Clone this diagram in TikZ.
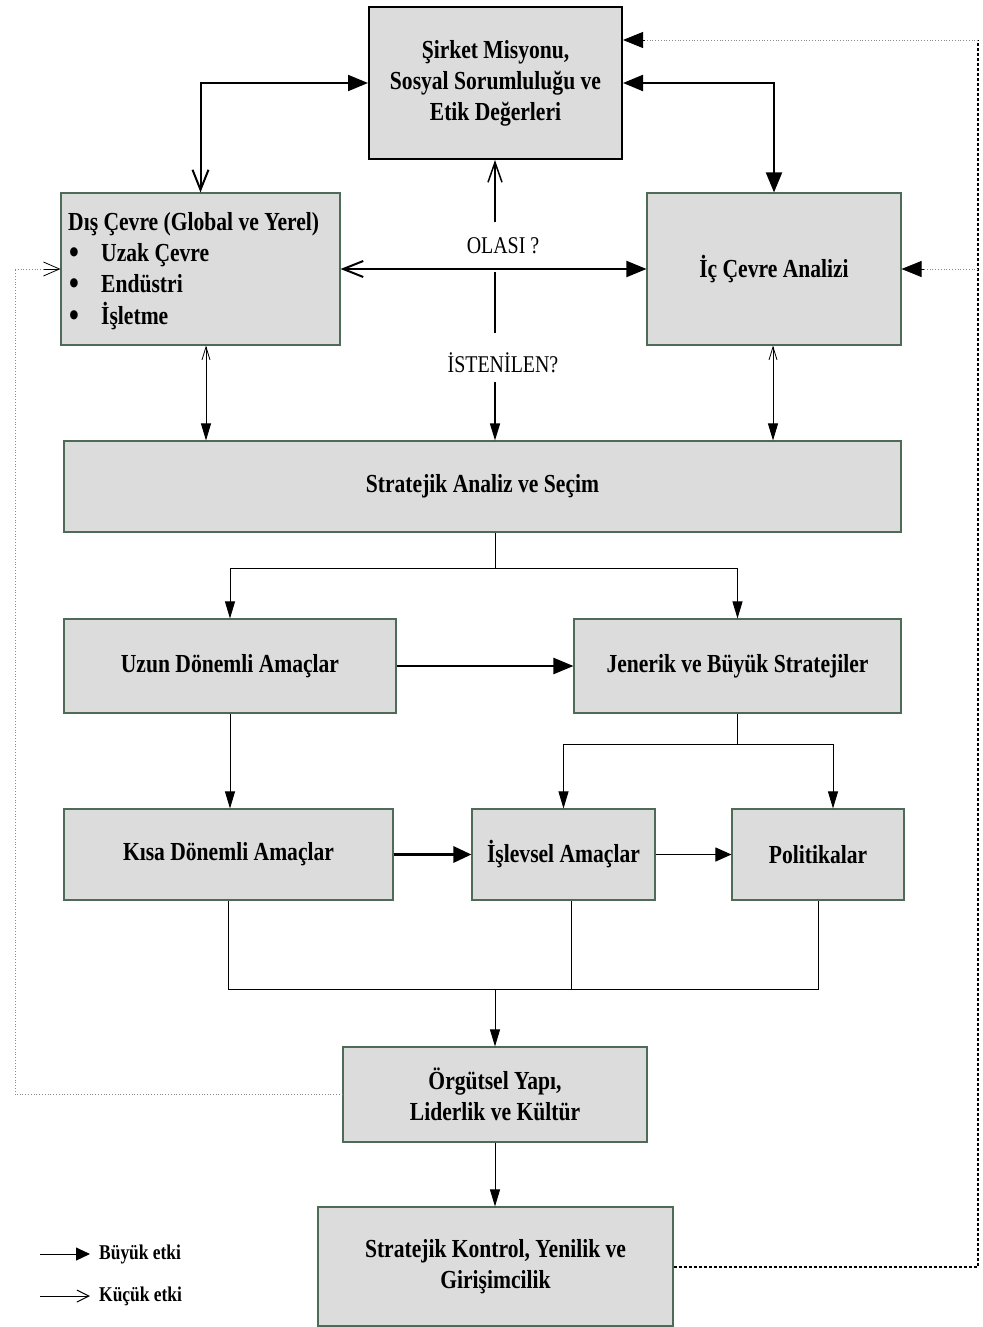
\documentclass[tikz,border=0pt]{standalone}
\usepackage{fontspec}
\setmainfont{Liberation Serif}[FakeStretch=0.83]
\usetikzlibrary{arrows.meta,calc}
\definecolor{boxfill}{HTML}{DCDCDC}
\definecolor{boxline}{HTML}{4E6B57}
\definecolor{dotgray}{HTML}{8A8A8A}
\newcommand{\bigbul}{\makebox[33pt][l]{\hspace{1pt}\raisebox{-2pt}{\scalebox{1.3}{\textbullet}}}}
\begin{document}
\begin{tikzpicture}[x=1pt,y=-1pt,
  box/.style={draw=boxline, fill=boxfill, line width=1.1pt, inner sep=0pt,
    align=center, font=\bfseries\fontsize{26}{31}\selectfont},
  bigtip/.style={-{Triangle[length=20pt,width=16pt]}},
  midtip/.style={-{Triangle[length=17pt,width=10pt]}},
  lab/.style={font=\fontsize{24}{26}\selectfont, inner sep=1pt},
  legtext/.style={anchor=west, inner sep=0pt, font=\bfseries\fontsize{21}{22}\selectfont},
  graydot/.style={draw=dotgray, dotted, line width=0.8pt},
  blackdot/.style={draw=black, dash pattern=on 3pt off 2pt, line width=2pt}
]
\useasboundingbox (0,0) rectangle (982,1327);

% boxes
\node[box, draw=black, line width=2pt, minimum width=253pt, minimum height=152pt] (mis) at (495.5,83)
  {Şirket Misyonu,\\Sosyal Sorumluluğu ve\\Etik Değerleri};
\node[box, minimum width=279pt, minimum height=152pt] (dis) at (200.5,269) {};
\node[anchor=north west, inner sep=0pt, align=left, font=\bfseries\fontsize{26}{31.3}\selectfont] (distext) at (68,212)
  {Dış Çevre (Global ve Yerel)\\
   \bigbul Uzak Çevre\\
   \bigbul Endüstri\\
   \bigbul İşletme};
\node[box, minimum width=254pt, minimum height=152pt] (ic) at (774,269) {İç Çevre Analizi};
\node[box, minimum width=837pt, minimum height=91pt] (str) at (482.5,486.5) {Stratejik Analiz ve Seçim};
\node[box, minimum width=332pt, minimum height=94pt] (uzun) at (230,666) {Uzun Dönemli Amaçlar};
\node[box, minimum width=327pt, minimum height=94pt] (jen) at (737.5,666) {Jenerik ve Büyük Stratejiler};
\node[box, minimum width=329pt, minimum height=91pt] (kisa) at (228.5,854.5) {Kısa Dönemli Amaçlar};
\node[box, minimum width=183pt, minimum height=91pt] (isl) at (563.5,854.5) {İşlevsel Amaçlar};
\node[box, minimum width=172pt, minimum height=91pt] (pol) at (818,854.5) {Politikalar};
\node[box, minimum width=304pt, minimum height=95pt] (org) at (495,1094.5) {Örgütsel Yapı,\\Liderlik ve Kültür};
\node[box, minimum width=355pt, minimum height=119pt] (kon) at (495.5,1266.5) {Stratejik Kontrol, Yenilik ve\\Girişimcilik};

% mission links
\draw[line width=2pt, {Straight Barb[length=20pt,width=16pt]}-{Triangle[length=20pt,width=16pt]}] (dis.north) |- (mis.west);
\draw[line width=2pt, {Triangle[length=20pt,width=16pt]}-{Triangle[length=20pt,width=16pt]}] (mis.east) -| (ic.north);
\draw[line width=2pt, {Straight Barb[length=20pt,width=16pt]}-{Triangle[length=20pt,width=16pt]}] (dis.east) -- (ic.west);

% OLASI / ISTENILEN
\node[lab] (olasi) at (503,246) {OLASI ?};
\node[lab] (isten) at (503,363) {İSTENİLEN?};
\coordinate (o1) at (495,222);
\coordinate (o2) at (495,272);
\coordinate (o3) at (495,333);
\coordinate (o4) at (495,382);
\draw[line width=1.5pt, -{Straight Barb[length=20pt,width=14pt]}] (o1) -- (o1 |- mis.south);
\draw[line width=1.2pt] (o2) -- (o3);
\draw[line width=1.5pt, midtip] (o4) -- (o4 |- str.north);

% side vertical links
\draw[line width=0.8pt, {Straight Barb[length=13pt,width=8pt]}-{Triangle[length=17pt,width=10pt]}]
  ([xshift=5.5pt]dis.south) -- ([xshift=5.5pt]dis.south |- str.north);
\draw[line width=0.8pt, {Straight Barb[length=13pt,width=8pt]}-{Triangle[length=17pt,width=10pt]}]
  ([xshift=-1pt]ic.south) -- ([xshift=-1pt]ic.south |- str.north);

% strategy split
\coordinate (s1) at (495,568);
\draw[line width=0.8pt] (s1 |- str.south) -- (s1);
\draw[line width=0.8pt, midtip] (s1) -| (uzun.north);
\draw[line width=0.8pt, midtip] (s1) -| (jen.north);

\draw[line width=2.2pt, bigtip] (uzun.east) -- (jen.west);
\draw[line width=0.8pt, midtip] (uzun.south) -- (kisa.north -| uzun.south);

\draw[line width=0.8pt] (jen.south) -- ++(0,31) coordinate (j1);
\draw[line width=0.8pt, midtip] (j1) -| (isl.north);
\draw[line width=0.8pt, midtip] (j1) -| ([xshift=15pt]pol.north);

\draw[line width=3pt, -{Triangle[length=18pt,width=16pt]}] (kisa.east) -- (isl.west);
\draw[line width=1pt, -{Triangle[length=16pt,width=14pt]}] (isl.east) -- (pol.west);

% merge
\coordinate (m1) at (495,989);
\draw[line width=0.8pt] (kisa.south) |- (m1) -| (pol.south);
\draw[line width=0.8pt] ([xshift=7.5pt]isl.south) -- ([xshift=7.5pt]isl.south |- m1);
\draw[line width=0.9pt, midtip] (m1) -- (m1 |- org.north);
\draw[line width=0.9pt, midtip] (org.south) -- (org.south |- kon.north);

% feedback loops
\coordinate (fl) at (15,269);
\draw[graydot] (org.west) -| (fl);
\draw[graydot] (fl) -- ([xshift=-16pt]dis.west);
\draw[line width=0.8pt, -{Straight Barb[length=16pt,width=14pt]}] ([xshift=-16pt]dis.west) -- (dis.west);

\coordinate (fr1) at (978,40);
\coordinate (fr2) at (978,269);
\draw[blackdot] (kon.east) -| (fr1);
\draw[graydot] (fr1) -- ([xshift=22pt]fr1 -| mis.east);
\draw[-{Triangle[length=20pt,width=16pt]}, line width=0.8pt] ([xshift=22pt]fr1 -| mis.east) -- (fr1 -| mis.east);
\draw[graydot] (fr2) -- ([xshift=22pt]ic.east);
\draw[-{Triangle[length=20pt,width=16pt]}, line width=0.8pt] ([xshift=22pt]ic.east) -- (ic.east);

% legend
\coordinate (la1) at (40,1254);
\coordinate (la2) at (90,1254);
\coordinate (lb1) at (40,1296);
\coordinate (lb2) at (90,1296);
\draw[line width=1pt, -{Triangle[length=14pt,width=13pt]}] (la1) -- (la2);
\draw[line width=1pt, -{Straight Barb[length=12pt,width=12pt]}] (lb1) -- (lb2);
\node[legtext] (leg1) at (99,1254) {Büyük etki};
\node[legtext] (leg2) at (99,1296) {Küçük etki};
\end{tikzpicture}
\end{document}
